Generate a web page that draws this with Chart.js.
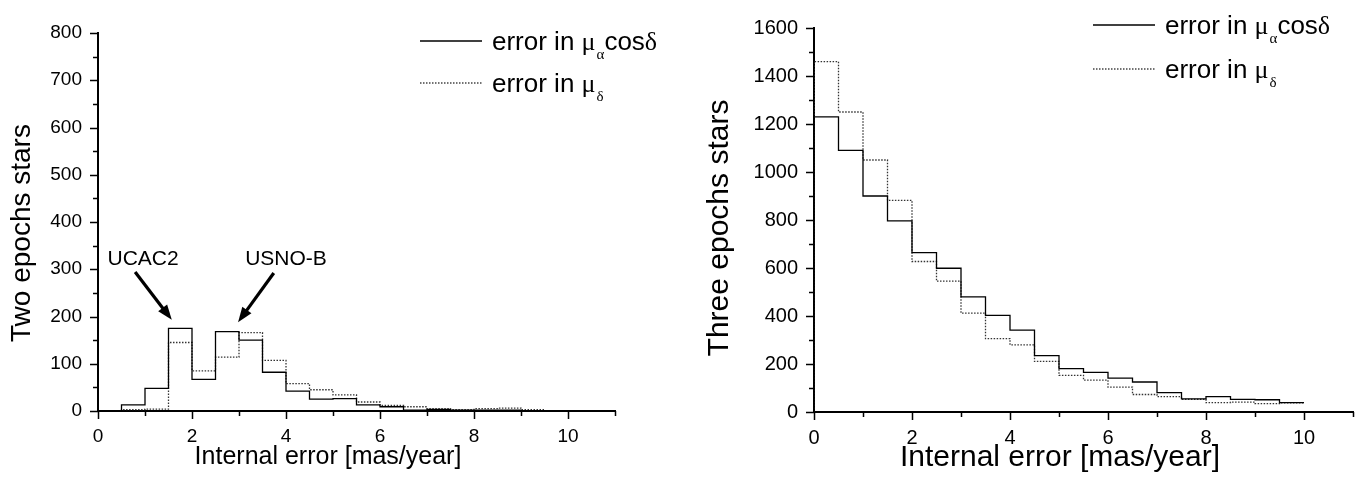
<!DOCTYPE html>
<html>
<head>
<meta charset="utf-8">
<title>Internal error histograms</title>
<script src="https://cdn.jsdelivr.net/npm/chart.js@4.4.0/dist/chart.umd.min.js"></script>
<style>
    body { margin: 0; background: #fff; }
    canvas { position: absolute; top: 0; }
    #leftChart { left: 0; }
    #rightChart { left: 686px; }
</style>
</head>
<body>
<canvas id="leftChart" width="686" height="479"></canvas>
<canvas id="rightChart" width="686" height="479"></canvas>
<script>
// Two epochs stars: bins of 0.5 mas/year from 0.5 to 10
const leftEdges = [0.5, 1.0, 1.5, 2.0, 2.5, 3.0, 3.5, 4.0, 4.5, 5.0, 5.5, 6.0, 6.5, 7.0, 7.5, 8.0, 8.5, 9.0, 9.5, 10.0];
const leftRaCos = [13, 48, 175, 67, 168, 150, 82, 42, 25, 26, 13, 9, 2, 3.5, 2, 2, 2, 1, 0.5];
const leftDec = [3, 4, 145, 85, 114, 166, 107, 58, 45, 34, 19, 12, 9, 5, 3, 5, 6, 3, 1];

// Three epochs stars: bins of 0.5 mas/year from 0 to 10
const rightEdges = [0, 0.5, 1.0, 1.5, 2.0, 2.5, 3.0, 3.5, 4.0, 4.5, 5.0, 5.5, 6.0, 6.5, 7.0, 7.5, 8.0, 8.5, 9.0, 9.5, 10.0];
const rightRaCos = [1230, 1090, 900, 796, 664, 599, 480, 403, 341, 235, 181, 165, 141, 125, 81, 55, 64, 53, 51, 39];
const rightDec = [1460, 1250, 1050, 882, 627, 545, 412, 306, 280, 211, 153, 133, 104, 73, 64, 53, 39, 41, 35, 38];

const xTickLabels = [0, 2, 4, 6, 8, 10];

const SANS = '"Liberation Sans", Arial, sans-serif';
const SERIF = '"Liberation Serif", "Times New Roman", serif';

// histogram outline: vertical up at first edge, then flat tops
function stepPoints(edges, values) {
    const pts = [{x: edges[0], y: 0}];
    values.forEach((v, i) => {
        pts.push({x: edges[i], y: v});
        pts.push({x: edges[i + 1], y: v});
    });
    return pts;
}

function drawRich(ctx, x, y, parts) {
    parts.forEach(p => {
        ctx.font = p.font;
        ctx.fillText(p.text, x, y + (p.dy || 0));
        x += ctx.measureText(p.text).width + (p.gap || 0);
    });
}

function legendParts(size, sub, withCos) {
    const parts = [
        {text: 'error in ', font: size + 'px ' + SANS},
        {text: 'μ', font: size + 'px ' + SERIF, gap: 1},
        {text: sub, font: Math.round(size * 0.58) + 'px ' + SERIF, dy: Math.round(size * 0.36)}
    ];
    if (withCos) {
        parts.push({text: 'cos', font: size + 'px ' + SANS});
        parts.push({text: 'δ', font: size + 'px ' + SERIF});
    }
    return parts;
}

function drawArrow(ctx, x1, y1, x2, y2) {
    const ang = Math.atan2(y2 - y1, x2 - x1);
    const head = 16;
    ctx.beginPath();
    ctx.moveTo(x1, y1);
    ctx.lineTo(x2 - Math.cos(ang) * head * 0.8, y2 - Math.sin(ang) * head * 0.8);
    ctx.stroke();
    ctx.beginPath();
    ctx.moveTo(x2, y2);
    ctx.lineTo(x2 - head * Math.cos(ang - 0.36), y2 - head * Math.sin(ang - 0.36));
    ctx.lineTo(x2 - head * Math.cos(ang + 0.36), y2 - head * Math.sin(ang + 0.36));
    ctx.closePath();
    ctx.fill();
}

// ticks, titles, legend and arrows drawn on top
const decorPlugin = {
    id: 'decor',
    afterDraw(chart, args, o) {
        const ctx = chart.ctx;
        const xs = chart.scales.x, ys = chart.scales.y;
        ctx.save();
        ctx.strokeStyle = '#000';
        ctx.fillStyle = '#000';
        ctx.lineWidth = 1.5;

        // outward tick marks
        ctx.beginPath();
        xs.ticks.forEach(t => {
            const px = Math.round(xs.getPixelForValue(t.value)) + 0.5;
            const len = t.value % 2 === 0 ? 8 : 5;
            ctx.moveTo(px, ys.bottom);
            ctx.lineTo(px, ys.bottom + len);
        });
        ys.ticks.forEach(t => {
            const py = Math.round(ys.getPixelForValue(t.value)) + 0.5;
            const len = t.value % o.yMajor === 0 ? 8 : 5;
            ctx.moveTo(xs.left, py);
            ctx.lineTo(xs.left - len, py);
        });
        ctx.stroke();

        // axis titles
        ctx.textAlign = 'center';
        ctx.textBaseline = 'middle';
        ctx.font = o.xTitleSize + 'px ' + SANS;
        ctx.fillText('Internal error [mas/year]', o.xTitleX, o.xTitleY);
        ctx.font = o.yTitleSize + 'px ' + SANS;
        ctx.save();
        ctx.translate(o.yTitleX, o.yTitleY);
        ctx.rotate(-Math.PI / 2);
        ctx.fillText(o.yTitle, 0, 0);
        ctx.restore();

        // legend
        const lg = o.legend;
        ctx.lineWidth = 1.3;
        ctx.beginPath();
        ctx.moveTo(lg.x, lg.y1);
        ctx.lineTo(lg.x + 62, lg.y1);
        ctx.stroke();
        ctx.setLineDash([1.5, 1.5]);
        ctx.strokeStyle = '#444';
        ctx.beginPath();
        ctx.moveTo(lg.x, lg.y2);
        ctx.lineTo(lg.x + 62, lg.y2);
        ctx.stroke();
        ctx.setLineDash([]);
        ctx.strokeStyle = '#000';
        ctx.textAlign = 'left';
        ctx.textBaseline = 'alphabetic';
        drawRich(ctx, lg.x + 72, lg.y1 + 9, legendParts(lg.size, 'α', true));
        drawRich(ctx, lg.x + 72, lg.y2 + 9, legendParts(lg.size, 'δ', false));

        // annotations with arrows
        (o.notes || []).forEach(n => {
            ctx.font = '21px ' + SANS;
            ctx.textAlign = 'center';
            ctx.textBaseline = 'middle';
            ctx.fillText(n.text, xs.getPixelForValue(n.x), ys.getPixelForValue(n.y));
            ctx.lineWidth = 3.2;
            drawArrow(ctx,
                xs.getPixelForValue(n.from[0]), ys.getPixelForValue(n.from[1]),
                xs.getPixelForValue(n.to[0]), ys.getPixelForValue(n.to[1]));
        });
        ctx.restore();
    }
};

function makeChart(id, edges, raCos, dec, cfg) {
    return new Chart(document.getElementById(id), {
        type: 'line',
        data: {
            datasets: [{
                    data: stepPoints(edges, raCos),
                    borderColor: '#000',
                    borderWidth: 1.3,
                    pointRadius: 0,
                    tension: 0
                }, {
                    data: stepPoints(edges, dec),
                    borderColor: '#333',
                    borderWidth: 1.3,
                    borderDash: [1.5, 1.5],
                    pointRadius: 0,
                    tension: 0
                }]
        },
        options: {
            responsive: false,
            animation: false,
            layout: {padding: cfg.padding},
            scales: {
                x: {
                    type: 'linear',
                    min: 0,
                    max: 11,
                    afterFit: s => { s.height = cfg.xHeight; },
                    grid: {display: false, drawTicks: false},
                    border: {display: true, color: '#000', width: 2},
                    ticks: {
                        stepSize: 1,
                        autoSkip: false,
                        maxRotation: 0,
                        padding: cfg.xPad,
                        color: '#000',
                        font: {family: SANS, size: cfg.tickSize},
                        callback: v => xTickLabels.includes(v) ? v : ''
                    }
                },
                y: {
                    min: 0,
                    max: cfg.yMax,
                    afterFit: s => { s.width = cfg.yWidth; },
                    grid: {display: false, drawTicks: false},
                    border: {display: true, color: '#000', width: 2},
                    ticks: {
                        stepSize: cfg.yMinor,
                        autoSkip: false,
                        padding: cfg.yPad,
                        color: '#000',
                        font: {family: SANS, size: cfg.tickSize},
                        callback: v => v % cfg.yMajor === 0 ? v : ''
                    }
                }
            },
            plugins: {
                legend: {display: false},
                tooltip: {enabled: false},
                decor: cfg.decor
            }
        },
        plugins: [decorPlugin]
    });
}

makeChart('leftChart', leftEdges, leftRaCos, leftDec, {
    padding: {left: 0, top: 33, right: 71, bottom: 0},
    xHeight: 68, yWidth: 98, xPad: 14, yPad: 16,
    tickSize: 19, yMax: 800, yMinor: 50, yMajor: 100,
    decor: {
        yMajor: 100, xTitleSize: 25, xTitleX: 328, xTitleY: 457,
        yTitleSize: 28, yTitle: 'Two epochs stars', yTitleX: 22, yTitleY: 233,
        legend: {x: 420, y1: 41, y2: 83, size: 26},
        notes: [
            {text: 'UCAC2', x: 0.96, y: 322, from: [0.79, 294], to: [1.57, 193]},
            {text: 'USNO-B', x: 4.0, y: 322, from: [3.74, 292], to: [2.98, 188]}
        ]
    }
});

makeChart('rightChart', rightEdges, rightRaCos, rightDec, {
    padding: {left: 0, top: 18, right: 19, bottom: 0},
    xHeight: 67, yWidth: 128, xPad: 14, yPad: 16,
    tickSize: 20, yMax: 1600, yMinor: 100, yMajor: 200,
    decor: {
        yMajor: 200, xTitleSize: 30, xTitleX: 374, xTitleY: 458,
        yTitleSize: 30, yTitle: 'Three epochs stars', yTitleX: 34, yTitleY: 228,
        legend: {x: 407, y1: 25, y2: 69, size: 26}
    }
});
</script>
</body>
</html>
